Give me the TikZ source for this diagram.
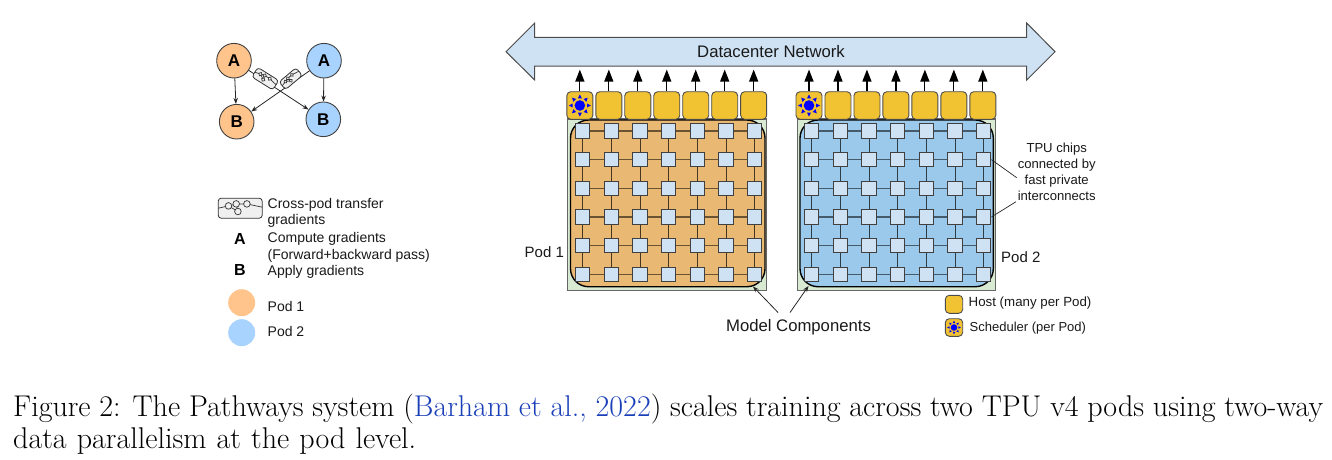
\documentclass[tikz,border=0pt]{standalone}
\usepackage{fontspec}
\setsansfont{Liberation Sans}
\usetikzlibrary{arrows.meta,calc}
\definecolor{hostc}{HTML}{F1C232}
\definecolor{chipc}{HTML}{CFE2F3}
\definecolor{netc}{HTML}{CFE2F3}
\definecolor{greenc}{HTML}{D9EAD3}
\definecolor{podo}{HTML}{E9B872}
\definecolor{podb}{HTML}{9AC9EB}
\definecolor{circo}{HTML}{FFC48C}
\definecolor{circb}{HTML}{A9D3FF}
\definecolor{linkc}{HTML}{1A3FB8}
\tikzset{
  lab/.style={font=\sffamily\fontsize{14}{16}\selectfont,inner sep=0pt,text=black!90},
  hostbox/.style={draw=black!70,line width=.9pt,fill=hostc,rounded corners=4pt,minimum width=26pt,minimum height=27.6pt,inner sep=0pt},
  chipbox/.style={draw=black!75,line width=1pt,fill=chipc,minimum size=14.4pt,inner sep=0pt},
  gridline/.style={line width=1.1pt},
  shell/.style={draw=black!60,line width=1.1pt,fill=greenc},
  podarea/.style={draw=black,line width=1.4pt,rounded corners=18pt},
  uparrow/.style={line width=1.2pt,-{Triangle[length=12pt,width=9pt]}},
  thin arrow/.style={line width=.8pt,black!85,-{Stealth[length=6pt,width=4.5pt]}},
  leader/.style={line width=.7pt,black!85},
  gcirc/.style={circle,draw=black!75,line width=.9pt,minimum size=34.6pt,inner sep=0pt,font=\sffamily\bfseries\fontsize{17}{17}\selectfont},
  lcirc/.style={circle,minimum size=27pt,inner sep=0pt},
  legendletter/.style={font=\sffamily\bfseries\fontsize{16}{16}\selectfont,inner sep=0pt},
  sun/.pic={
    \fill[blue] (0,0) circle[radius=5.3];
    \foreach \a in {0,45,...,315}
      \fill[blue,rotate=\a] (7.2,-2) -- (11,0) -- (7.2,2) -- cycle;
  },
  xfer/.pic={
    \draw[black!80,line width=.8pt,fill=black!6,rounded corners=3pt] (-22,-10) rectangle (22,10);
    \draw[black!80,line width=.7pt] (-22,0) -- (-11.7,-2.3) -- (-4,-4.3) -- (6.7,-4.3) -- (22,-1)
      (-11.7,-2.3) -- (-2.3,3.3) -- (-4,-4.3);
    \foreach \q in {(-11.7,-2.3),(-4,-4.3),(6.7,-4.3),(-2.3,3.3)}
      \draw[black!80,line width=.7pt,fill=black!6] \q circle[radius=3.3];
  }
}
\newcommand{\chipdx}{28.67}
\begin{document}
\begin{tikzpicture}[x=1pt,y=-1pt]
\useasboundingbox (0,0) rectangle (1332,460);

% Network arrow
\draw[draw=black!70,line width=1pt,fill=netc] (506,51.7) -- (534.7,23) -- (534.7,37.3) -- (1026.7,37.3) -- (1026.7,23) -- (1055,51.7) -- (1026.7,80) -- (1026.7,66) -- (534.7,66) -- (534.7,80) -- cycle;
\node[font=\sffamily\fontsize{16.7}{18}\selectfont,inner sep=0pt,text=black!90] (net) at (771,51.5) {Datacenter Network};

% Pods
\foreach \p/\sl/\sr/\al/\ar/\col/\hx/\cx in {1/567.7/766.7/570.5/765/podo/579.85/582.7, 2/797.3/995.7/800/993.3/podb/809/811.7}{
  \node[shell,minimum width=\sr pt-\sl pt,minimum height=171.3pt,inner sep=0pt] (shell\p) at ({(\sl+\sr)/2},{119+85.65}) {};
  \node[podarea,fill=\col,minimum width=\ar pt-\al pt,minimum height=166.7pt,inner sep=0pt] (area\p) at ({(\al+\ar)/2},{120+83.35}) {};
  \foreach \i in {0,...,6}{
    \node[hostbox] (h\p-\i) at ({\hx+\i*28.97},105.5) {};
    \path (h\p-\i.north) ++(0,-21.7) coordinate (top\p-\i);
    \draw[uparrow] (h\p-\i.north) -- (top\p-\i);
  }
  \pic at (h\p-0.center) {sun};
  \foreach \r in {0,...,5}{
    \foreach \c in {0,...,6}{
      \node[chipbox] (c\p-\r-\c) at ({\cx+\c*\chipdx},{131+\r*28.66}) {};
    }
  }
  \foreach \r in {0,...,5}{
    \foreach \c [evaluate=\c as \n using int(\c+1)] in {0,...,5}{
      \draw[gridline,draw=\col!45!black] (c\p-\r-\c) -- (c\p-\r-\n);
    }
  }
  \foreach \c in {0,...,6}{
    \foreach \r [evaluate=\r as \n using int(\r+1)] in {0,...,4}{
      \draw[gridline,draw=\col!30!black] (c\p-\r-\c) -- (c\p-\n-\c);
    }
  }
}

% Pod labels
\node[lab,anchor=west,font=\sffamily\fontsize{15}{16}\selectfont] (pod1lab) at (524.5,252) {Pod 1};
\node[lab,anchor=west,font=\sffamily\fontsize{15}{16}\selectfont] (pod2lab) at (1001,257) {Pod 2};

% Model components
\node[inner sep=0pt,font=\sffamily\fontsize{16.7}{18}\selectfont,text=black!90] (mc) at (798.5,327.5) {Model Components};
\coordinate (mcl) at (778,312.5);
\coordinate (mcr) at (790,312.5);
\coordinate (tal) at (753,286.5);
\coordinate (tar) at (808.5,286);
\draw[thin arrow] (mcl) -- (tal);
\draw[thin arrow] (mcr) -- (tar);

% TPU label
\node[inner sep=0pt,align=center,text=black!90,font=\sffamily\fontsize{13.1}{16}\selectfont] (tpu) at (1056.7,172) {TPU chips\\connected by\\fast private\\interconnects};
\coordinate (tpua) at (1016.7,177.7);
\coordinate (tpub) at (1016,201.7);
\draw[leader] (tpua) -- (c2-1-6.east);
\draw[leader] (tpub) -- (c2-3-6.east);

% Right legend
\node[hostbox,minimum width=17.4pt,minimum height=18pt] (lh) at (954,304.3) {};
\node[hostbox,minimum width=17.4pt,minimum height=17.6pt] (ls) at (954,327.5) {};
\pic[scale=.62] at (ls.center) {sun};
\node[lab,anchor=west,font=\sffamily\fontsize{13.3}{14}\selectfont] (lht) at (968.5,303.5) {Host (many per Pod)};
\node[lab,anchor=west,font=\sffamily\fontsize{13}{14}\selectfont] (lst) at (969.5,328.5) {Scheduler (per Pod)};

% Gradient graph
\node[gcirc,fill=circo] (ao) at (234,60.7) {A};
\node[gcirc,fill=circo] (bo) at (236.7,121.7) {B};
\node[gcirc,fill=circb] (ab) at (324,60.7) {A};
\node[gcirc,fill=circb] (bb) at (323.3,119.3) {B};
\draw[thin arrow] (ao) -- (bo);
\draw[thin arrow] (ab) -- (bb);
\draw[thin arrow] (ao) -- (bb);
\draw[thin arrow] (ab) -- (bo);
\pic[rotate=-32,scale=.56] at (265.3,78.7) {xfer};
\pic[rotate=40,scale=.5] at (290.7,78.7) {xfer};

% Left legend
\pic at (240.2,208.2) {xfer};
\node[lab,anchor=west] (l1) at (267.5,204.5) {Cross-pod transfer};
\node[lab,anchor=west] (l2) at (267.5,221) {gradients};
\node[lab,anchor=west] (l3) at (267.5,238.5) {Compute gradients};
\node[lab,anchor=west] (l4) at (267.5,255.5) {(Forward+backward pass)};
\node[lab,anchor=west] (l5) at (267.5,272) {Apply gradients};
\node[legendletter] (la) at (240,238.5) {A};
\node[legendletter] (lb) at (240,270) {B};
\node[lcirc,fill=circo] (lc1) at (241.7,302.7) {};
\node[lcirc,fill=circb] (lc2) at (241.7,332.7) {};
\node[lab,anchor=west] (l6) at (267.5,306) {Pod 1};
\node[lab,anchor=west] (l7) at (267.5,331) {Pod 2};

% Caption
\node[anchor=base west,inner sep=0pt,font=\rmfamily\fontsize{30}{32}\selectfont] (cap1) at (13,416) {\hbox to 1310pt{Figure 2: The Pathways system (\textcolor{linkc}{Barham et al., 2022}) scales training across two TPU v4 pods using two-way}};
\node[anchor=base west,inner sep=0pt,font=\rmfamily\fontsize{30}{32}\selectfont] (cap2) at (13,448) {\hbox to 403pt{data parallelism at the pod level.}};
\end{tikzpicture}
\end{document}
